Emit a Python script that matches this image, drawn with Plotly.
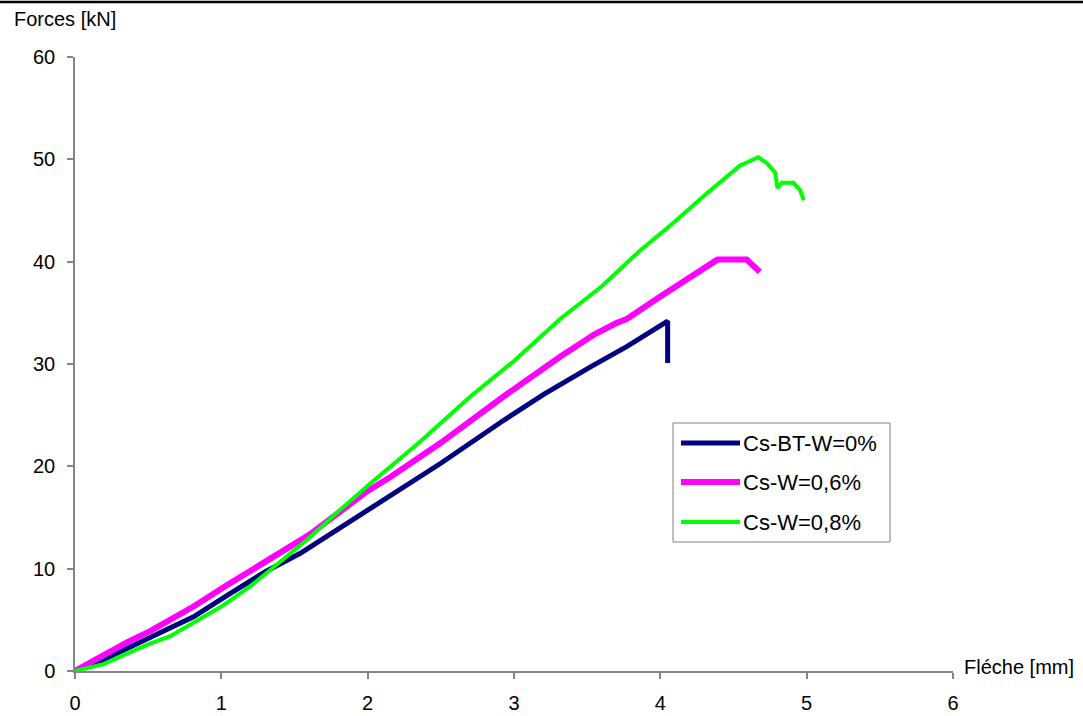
import plotly.graph_objects as go

# Load / deflection curves for the three specimens
names = ["Cs-BT-W=0%", "Cs-W=0,6%", "Cs-W=0,8%"]
colors = ["#000080", "#FF00FF", "#00FF00"]
widths = [5, 6, 4]

fleche_0 = [0, 0.15, 0.355, 0.6, 0.81, 1.04, 1.3, 1.54, 1.8, 2.1, 2.5, 2.93,
            3.2, 3.52, 3.77, 4.05, 4.05]
force_0 = [0, 0.8, 2.2, 3.8, 5.3, 7.4, 9.7, 11.5, 13.9, 16.6, 20.3, 24.5,
           27.0, 29.7, 31.7, 34.2, 30.1]

fleche_06 = [0, 0.12, 0.355, 0.513, 0.81, 1.04, 1.33, 1.6, 2.0, 2.15, 2.5,
             2.926, 3.315, 3.55, 3.7, 3.77, 4.0, 4.29, 4.39, 4.59, 4.68]
force_06 = [0, 1.0, 2.8, 3.9, 6.3, 8.4, 10.85, 13.3, 17.6, 18.9, 22.3,
            26.8, 30.7, 32.9, 34.0, 34.4, 36.6, 39.4, 40.2, 40.2, 39.0]

fleche_08 = [0, 0.2, 0.355, 0.5, 0.65, 0.81, 1.0, 1.2, 1.4, 1.6, 1.8, 2.016,
             2.35, 2.7, 3.0, 3.315, 3.6, 3.862, 4.09, 4.32, 4.545, 4.67,
             4.73, 4.785, 4.80, 4.83, 4.91, 4.955, 4.98]
force_08 = [0, 0.7, 1.7, 2.6, 3.4, 4.7, 6.3, 8.3, 10.6, 13.0, 15.6, 18.3,
            22.3, 26.8, 30.3, 34.4, 37.6, 41.1, 43.8, 46.7, 49.4, 50.2,
            49.6, 48.7, 47.2, 47.7, 47.7, 47.0, 46.0]

x_ticks = [0, 1, 2, 3, 4, 5, 6]
y_ticks = [0, 10, 20, 30, 40, 50, 60]

series = [(fleche_0, force_0), (fleche_06, force_06), (fleche_08, force_08)]

W, H = 1083, 716
ML, MR, MT, MB = 75, 130, 57, 45
PW, PH = W - ML - MR, H - MT - MB
FONT = "Liberation Sans, Arial, sans-serif"


def px(x):
    """Horizontal pixel position -> paper coordinate."""
    return (x - ML) / PW


def py(y):
    """Vertical pixel position -> paper coordinate."""
    return (H - MB - y) / PH


fig = go.Figure()
for (xs, ys), name, color, w in zip(series, names, colors, widths):
    fig.add_trace(go.Scatter(
        x=xs, y=ys, mode="lines", name=name, showlegend=False,
        line=dict(color=color, width=w),
    ))

axis_common = dict(
    showgrid=False, zeroline=False, showline=True, automargin=False,
    linecolor="#868686", linewidth=1.5,
    ticks="outside", ticklen=6, tickcolor="#868686", tickwidth=1.5,
    tickfont=dict(family=FONT, size=20, color="black"),
)

fig.update_xaxes(range=[0, 6], tickvals=x_ticks, ticklabelstandoff=7, **axis_common)
fig.update_yaxes(range=[0, 60], tickvals=y_ticks, ticklabelstandoff=8, **axis_common)

# Boxed legend: sample line + label for each series
legend_rows = [443, 482, 522]
shapes = [
    # rule across the top of the page
    dict(type="line", xref="paper", yref="paper",
         x0=px(0), x1=px(W), y0=py(2), y1=py(2),
         line=dict(color="black", width=2.5)),
    # legend frame
    dict(type="rect", xref="paper", yref="paper",
         x0=px(673), x1=px(890), y0=py(542), y1=py(423),
         line=dict(color="#808080", width=1), fillcolor="white", layer="above"),
]
annotations = [
    dict(text="Forces [kN]", xref="paper", yref="paper",
         x=px(12), y=py(19), xanchor="left", yanchor="middle",
         showarrow=False, font=dict(family=FONT, size=20)),
    dict(text="Fléche [mm]", xref="paper", yref="paper",
         x=px(962), y=py(667), xanchor="left", yanchor="middle",
         showarrow=False, font=dict(family=FONT, size=20)),
]
for row, name, color, w in zip(legend_rows, names, colors, widths):
    shapes.append(dict(type="line", xref="paper", yref="paper",
                       x0=px(681), x1=px(740), y0=py(row), y1=py(row),
                       line=dict(color=color, width=w), layer="above"))
    annotations.append(dict(text=name, xref="paper", yref="paper",
                            x=px(741), y=py(row), xanchor="left", yanchor="middle",
                            showarrow=False, font=dict(family=FONT, size=22)))

fig.update_layout(
    width=W, height=H,
    margin=dict(l=ML, r=MR, t=MT, b=MB),
    paper_bgcolor="white", plot_bgcolor="white",
    font=dict(family=FONT, size=20, color="black"),
    showlegend=False,
    shapes=shapes,
    annotations=annotations,
)

fig.write_html("out.html")
